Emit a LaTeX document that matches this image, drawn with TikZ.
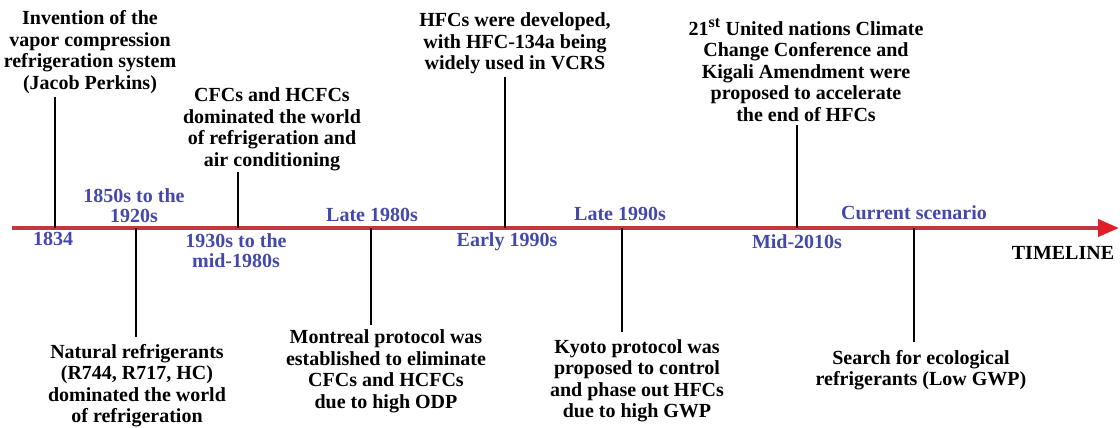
\documentclass[tikz,border=0pt]{standalone}
\usepackage{fontspec}
\setmainfont{Liberation Serif}
\usetikzlibrary{arrows.meta}
\definecolor{axisred}{RGB}{192,55,65}
\definecolor{headred}{RGB}{225,30,40}
\definecolor{labblue}{RGB}{68,72,170}
\tikzset{
  event/.style={align=center,inner sep=0pt,font=\fontsize{20}{21.5}\selectfont\bfseries},
  period/.style={align=center,inner sep=0pt,text=labblue,font=\fontsize{20}{20}\selectfont\bfseries},
  tick/.style={line width=2.8pt,black},
  axis/.style={line width=4pt,axisred,-{Triangle[length=21pt,width=17pt,color=headred,fill=headred]}}
}
\begin{document}
\begin{tikzpicture}[x=1pt,y=-1pt]
\useasboundingbox (0,0) rectangle (1120,428);
% axis
\coordinate (axs) at (12,228);
\coordinate (axe) at (1119,228);
\draw[axis] (axs) -- (axe);
% tick base points and ends
\coordinate (t1) at (55,228);  \coordinate (e1) at (55,97);
\coordinate (t2) at (136,228); \coordinate (e2) at (136,337);
\coordinate (t3) at (238,228); \coordinate (e3) at (238,172);
\coordinate (t4) at (371,228); \coordinate (e4) at (371,325);
\coordinate (t5) at (505,228); \coordinate (e5) at (505,77);
\coordinate (t6) at (622,228); \coordinate (e6) at (622,332);
\coordinate (t7) at (797,228); \coordinate (e7) at (797,125);
\coordinate (t8) at (914,228); \coordinate (e8) at (914,342);
\foreach \i in {1,...,8} {\draw[tick] (t\i) -- (e\i);}
% events above
\node[event] (inv) at (90,52) {Invention of the\\vapor compression\\refrigeration system\\(Jacob Perkins)};
\node[event] (cfc) at (272,129.5) {CFCs and HCFCs\\dominated the world\\of refrigeration and\\air conditioning};
\node[event] (hfc) at (515,43.5) {HFCs were developed,\\with HFC-134a being\\widely used in VCRS};
\node[event] (kig) at (806,70) {21\textsuperscript{\fontsize{16}{16}\selectfont st} United nations Climate\\Change Conference and\\Kigali Amendment were\\proposed to accelerate\\the end of HFCs};
% events below
\node[event] (nat) at (137,385.5) {Natural refrigerants\\(R744, R717, HC)\\dominated the world\\of refrigeration};
\node[event] (mon) at (386,371.5) {Montreal protocol was\\established to eliminate\\CFCs and HCFCs\\due to high ODP};
\node[event] (kyo) at (637,381) {Kyoto protocol was\\proposed to control\\and phase out HFCs\\due to high GWP};
\node[event] (sea) at (921,370) {Search for ecological\\refrigerants (Low GWP)};
% period labels
\node[period] (p1) at (53,239) {1834};
\node[period] (p2) at (134,206) {1850s to the\\1920s};
\node[period] (p3) at (236,251) {1930s to the\\mid-1980s};
\node[period] (p4) at (372,215) {Late 1980s};
\node[period] (p5) at (507,242) {Early 1990s};
\node[period] (p6) at (620,214) {Late 1990s};
\node[period] (p7) at (797,242) {Mid-2010s};
\node[period] (p8) at (914,213) {Current scenario};
\node[event] (tl) at (1063,253) {TIMELINE};
\end{tikzpicture}
\end{document}
